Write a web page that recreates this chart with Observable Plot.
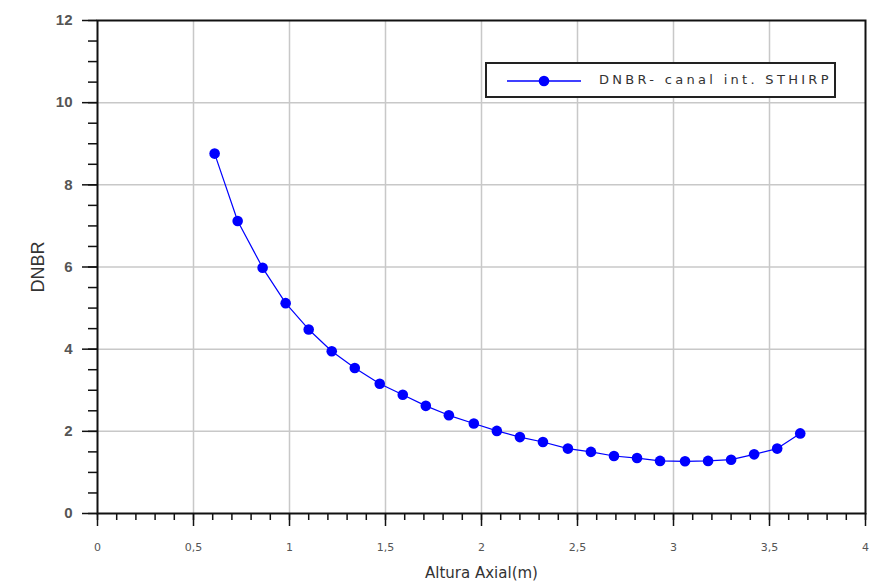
<!DOCTYPE html>
<html>
<head>
<meta charset="utf-8">
<script src="https://cdn.jsdelivr.net/npm/d3@7"></script>
<script src="https://cdn.jsdelivr.net/npm/@observablehq/plot@0.6"></script>
<style>
  html, body { margin: 0; padding: 0; background: #fff; }
  #wrap { position: relative; width: 869px; height: 584px; overflow: hidden; }
  #legend {
    position: absolute; left: 485px; top: 62px; width: 347px; height: 32px;
    border: 2px solid #222; background: #fff; box-sizing: content-box;
  }
  #legend svg { position: absolute; left: 0; top: 0; }
  #legend span {
    position: absolute; left: 112px; top: 8px; font-family: "DejaVu Sans", sans-serif;
    font-size: 13px; letter-spacing: 3.3px; color: #333; white-space: nowrap;
  }
</style>
</head>
<body>
<div id="wrap"></div>
<script>
// Data
const seriesName = "DNBR- canal int. STHIRP";
const altura = [0.61, 0.73, 0.86, 0.98, 1.10, 1.22, 1.34, 1.47, 1.59, 1.71, 1.83, 1.96, 2.08,
                2.20, 2.32, 2.45, 2.57, 2.69, 2.81, 2.93, 3.06, 3.18, 3.30, 3.42, 3.54, 3.66];
const dnbr = [8.76, 7.12, 5.98, 5.12, 4.48, 3.95, 3.54, 3.16, 2.89, 2.62, 2.39, 2.19, 2.01,
              1.86, 1.74, 1.58, 1.50, 1.40, 1.35, 1.28, 1.27, 1.28, 1.31, 1.44, 1.58, 1.95];
const xTicks = [0, 0.5, 1, 1.5, 2, 2.5, 3, 3.5, 4];
const xTickLabels = ["0", "0,5", "1", "1,5", "2", "2,5", "3", "3,5", "4"];
const yTicks = [0, 2, 4, 6, 8, 10, 12];
const xGrid = [0.5, 1, 1.5, 2, 2.5, 3, 3.5];
const yGrid = [2, 4, 6, 8, 10];
const xMinor = d3.range(0, 41).map(i => i / 10);
const yMinor = d3.range(0, 25).map(i => i / 2);

const data = altura.map((x, i) => ({x, y: dnbr[i]}));

const chart = Plot.plot({
  width: 869,
  height: 584,
  marginLeft: 97,
  marginRight: 4,
  marginTop: 20,
  marginBottom: 71,
  style: {background: "#fff", overflow: "visible"},
  x: {domain: [0, 4]},
  y: {domain: [0, 12]},
  marks: [
    Plot.gridX(xGrid, {stroke: "#c8c8c8", strokeOpacity: 1, strokeWidth: 1.5}),
    Plot.gridY(yGrid, {stroke: "#c8c8c8", strokeOpacity: 1, strokeWidth: 1.5}),
    Plot.axisX(xMinor, {tickSize: 7, tickFormat: () => "", label: null, stroke: "#111", strokeWidth: 1.5}),
    Plot.axisX(xTicks, {
      tickSize: 13, tickPadding: 17, stroke: "#111", strokeWidth: 1.5,
      tickFormat: (d) => xTickLabels[xTicks.indexOf(d)],
      fontSize: 11, fontFamily: "DejaVu Sans, sans-serif", fill: "#555",
      label: "Altura Axial(m)", labelAnchor: "center", labelArrow: "none", labelOffset: 64
    }),
    Plot.axisY(yMinor, {tickSize: 9, tickFormat: () => "", label: null, stroke: "#111", strokeWidth: 1.5}),
    Plot.axisY(yTicks, {
      tickSize: 15, tickPadding: 10, stroke: "#111", strokeWidth: 1.5,
      fontSize: 15, fontWeight: "bold", fontFamily: "Liberation Sans, Arial, sans-serif", fill: "#555",
      label: "DNBR", labelAnchor: "center", labelArrow: "none", labelOffset: 66
    }),
    Plot.frame({stroke: "#111", strokeWidth: 2}),
    Plot.line(data, {x: "x", y: "y", stroke: "#0000ff", strokeWidth: 1.2}),
    Plot.dot(data, {x: "x", y: "y", r: 5.3, fill: "#0000ff", stroke: "none"})
  ]
});

// style axis labels
chart.querySelectorAll("[aria-label='x-axis label'] text, [aria-label='x-axis label']").forEach(el => {
  el.setAttribute("font-size", "15");
  el.setAttribute("font-family", "DejaVu Sans, sans-serif");
  el.setAttribute("font-weight", "normal");
  el.setAttribute("fill", "#333");
});
chart.querySelectorAll("[aria-label='y-axis label'] text, [aria-label='y-axis label']").forEach(el => {
  el.setAttribute("font-size", "18");
  el.setAttribute("font-family", "Liberation Sans Narrow, Liberation Sans, Arial, sans-serif");
  el.setAttribute("font-weight", "normal");
  el.setAttribute("fill", "#333");
});

const wrap = document.getElementById("wrap");
wrap.appendChild(chart);

const legend = document.createElement("div");
legend.id = "legend";
legend.innerHTML = `<svg width="347" height="32">
  <line x1="20" y1="17" x2="94" y2="17" stroke="#0000ff" stroke-width="1.5"/>
  <circle cx="57" cy="17" r="5.3" fill="#0000ff"/>
</svg><span></span>`;
legend.querySelector("span").textContent = seriesName;
wrap.appendChild(legend);
</script>
</body>
</html>
